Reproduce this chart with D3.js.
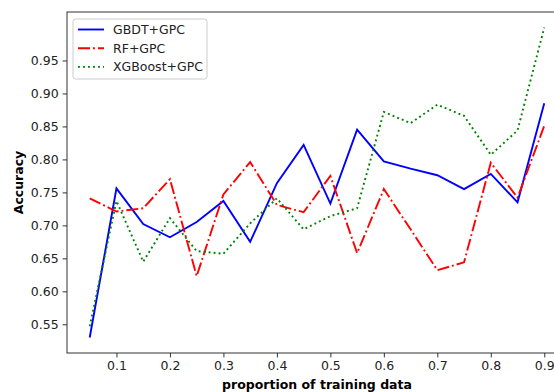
<!DOCTYPE html>
<html>
<head>
<meta charset="utf-8">
<script src="https://cdn.jsdelivr.net/npm/d3@7"></script>
<style>
  body { margin: 0; background: #fff; }
  svg { display: block; font-family: "DejaVu Sans", sans-serif; }
</style>
</head>
<body>
<svg width="554" height="392"></svg>
<script>
var proportions = [0.05, 0.1, 0.15, 0.2, 0.25, 0.3, 0.35, 0.4, 0.45, 0.5, 0.55, 0.6, 0.65, 0.7, 0.75, 0.8, 0.85, 0.9];
var gbdt = [0.530, 0.756, 0.702, 0.682, 0.705, 0.737, 0.675, 0.764, 0.822, 0.733, 0.845, 0.797, 0.786, 0.776, 0.755, 0.778, 0.735, 0.885];
var rf = [0.741, 0.721, 0.726, 0.770, 0.623, 0.747, 0.796, 0.731, 0.720, 0.775, 0.658, 0.755, 0.694, 0.632, 0.644, 0.795, 0.742, 0.851];
var xgb = [0.547, 0.737, 0.645, 0.711, 0.661, 0.657, 0.703, 0.741, 0.694, 0.714, 0.726, 0.872, 0.855, 0.883, 0.866, 0.807, 0.844, 1.0];
var xTicks = [0.1, 0.2, 0.3, 0.4, 0.5, 0.6, 0.7, 0.8, 0.9];
var yTicks = [0.55, 0.60, 0.65, 0.70, 0.75, 0.80, 0.85, 0.90, 0.95];

var series = [
  {name: "GBDT+GPC", values: gbdt, color: "#0000ff", dash: null},
  {name: "RF+GPC", values: rf, color: "#ff0000", dash: "12,3,1.9,3"},
  {name: "XGBoost+GPC", values: xgb, color: "#008000", dash: "1.9,3.1"}
];

var svg = d3.select("svg");
var plotLeft = 67, plotRight = 567, plotTop = 12, plotBottom = 353;

// matplotlib style 5% margins
var xPad = (0.9 - 0.05) * 0.05;
var x = d3.scaleLinear().domain([0.05 - xPad, 0.9 + xPad]).range([plotLeft, plotRight]);
var yMin = d3.min(series, s => d3.min(s.values));
var yMax = d3.max(series, s => d3.max(s.values));
var yPad = (yMax - yMin) * 0.05;
var y = d3.scaleLinear().domain([yMin - yPad, yMax + yPad]).range([plotBottom, plotTop]);

var line = d3.line()
  .x((d, i) => x(proportions[i]))
  .y(d => y(d));

svg.append("g")
  .selectAll("path")
  .data(series)
  .enter().append("path")
  .attr("d", d => line(d.values))
  .attr("fill", "none")
  .attr("stroke", d => d.color)
  .attr("stroke-width", 1.9)
  .attr("stroke-dasharray", d => d.dash);

var xAxis = svg.append("g")
  .attr("transform", "translate(0," + plotBottom + ")")
  .call(d3.axisBottom(x).tickValues(xTicks).tickSize(4.4).tickPadding(4).tickFormat(d3.format(".1f")));
var yAxis = svg.append("g")
  .attr("transform", "translate(" + plotLeft + ",0)")
  .call(d3.axisLeft(y).tickValues(yTicks).tickSize(4.4).tickPadding(4).tickFormat(d3.format(".2f")));

[xAxis, yAxis].forEach(function (a) {
  a.select(".domain").remove();
  a.selectAll("line").attr("stroke", "#333").attr("stroke-width", 1);
  a.selectAll("text").attr("fill", "#222").style("font-size", "12.5px").style("font-family", "DejaVu Sans");
});

// spines
svg.append("rect")
  .attr("x", plotLeft).attr("y", plotTop)
  .attr("width", plotRight - plotLeft).attr("height", plotBottom - plotTop)
  .attr("fill", "none").attr("stroke", "#333").attr("stroke-width", 1);

svg.append("text")
  .attr("x", (plotLeft + plotRight) / 2).attr("y", 389)
  .attr("text-anchor", "middle")
  .style("font-size", "12.5px").style("font-weight", "bold")
  .text("proportion of training data");

svg.append("text")
  .attr("transform", "translate(23," + (plotTop + plotBottom) / 2 + ") rotate(-90)")
  .attr("text-anchor", "middle")
  .style("font-size", "12.5px").style("font-weight", "bold")
  .text("Accuracy");

// legend
var legend = svg.append("g").attr("transform", "translate(73,19)");
legend.append("rect")
  .attr("width", 134).attr("height", 60)
  .attr("rx", 2.5)
  .attr("fill", "#fff").attr("fill-opacity", 0.8)
  .attr("stroke", "#ccc").attr("stroke-width", 1);

var item = legend.selectAll("g.item")
  .data(series)
  .enter().append("g")
  .attr("class", "item")
  .attr("transform", (d, i) => "translate(0," + (10.5 + i * 18.7) + ")");
item.append("line")
  .attr("x1", 5).attr("x2", 31)
  .attr("stroke", d => d.color)
  .attr("stroke-width", 1.9)
  .attr("stroke-dasharray", d => d.dash);
item.append("text")
  .attr("x", 40).attr("dy", "0.35em")
  .style("font-size", "12.5px")
  .attr("fill", "#222")
  .text(d => d.name);
</script>
</body>
</html>
